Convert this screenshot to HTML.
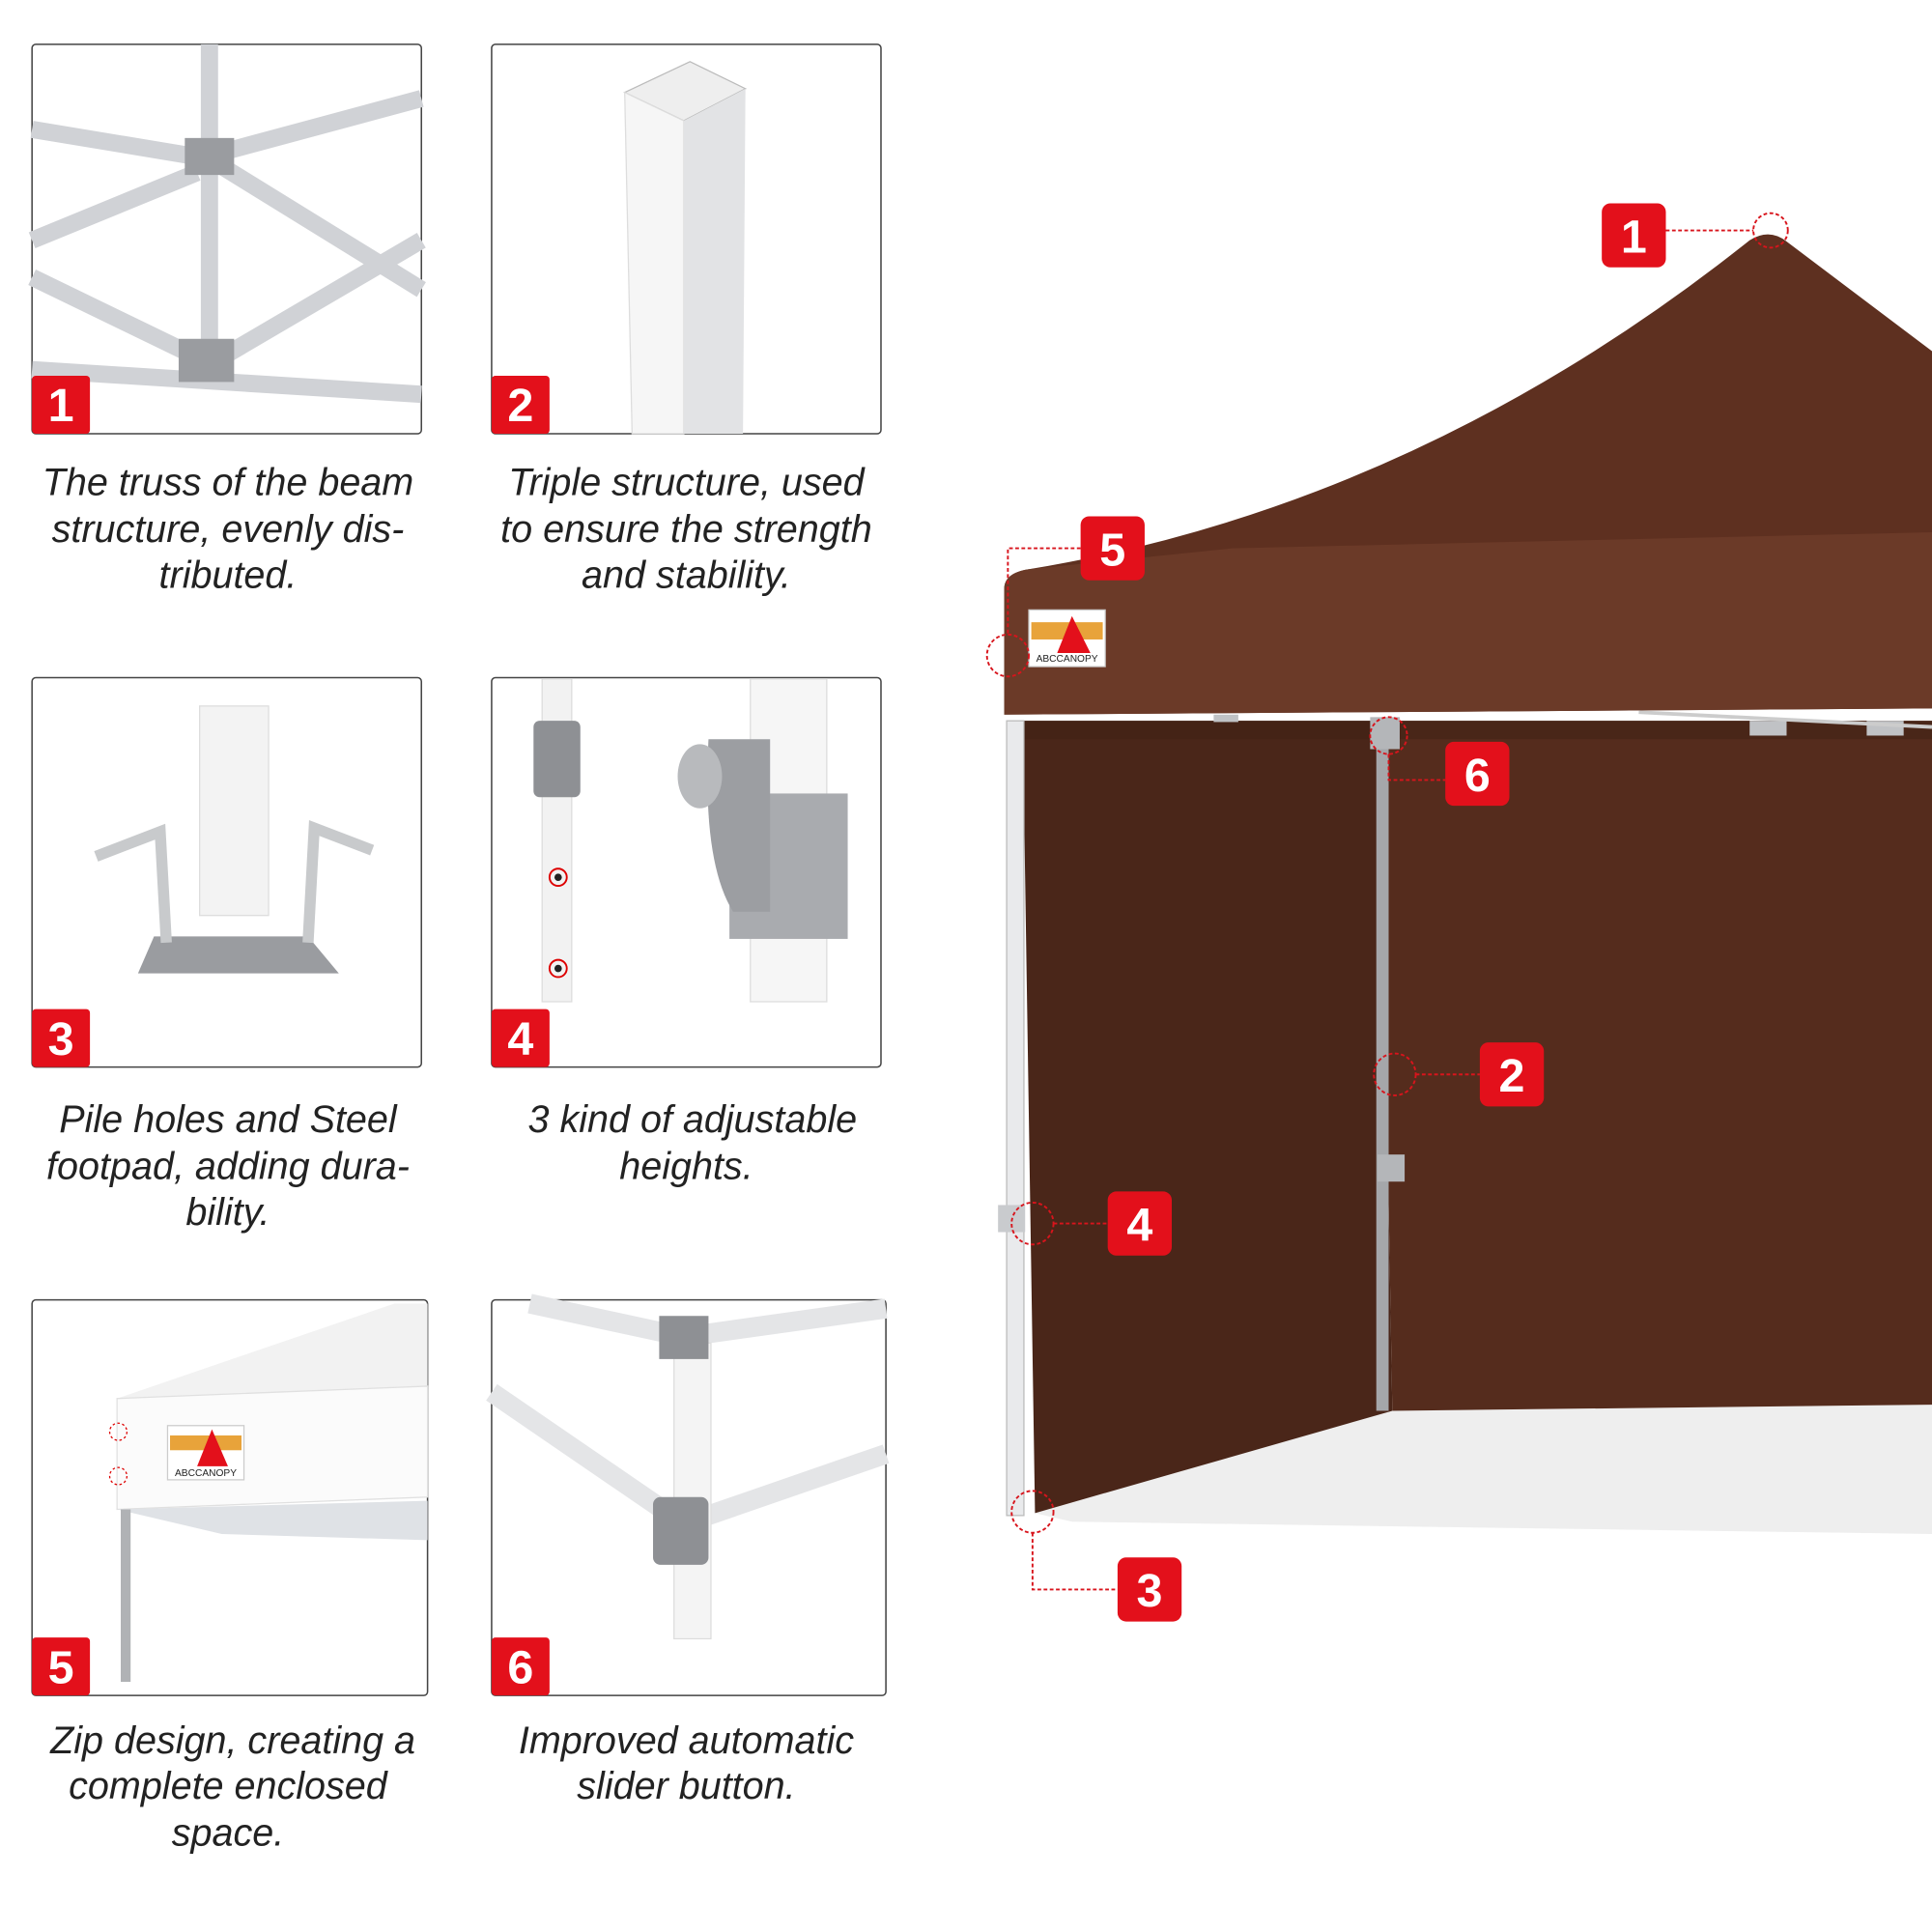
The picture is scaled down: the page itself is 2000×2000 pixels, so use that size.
<!DOCTYPE html>
<html><head><meta charset="utf-8"><style>
html,body{margin:0;padding:0;background:#fff;}
svg{display:block;}
text{font-family:"Liberation Sans",sans-serif;}
.cap{font-size:31px;font-style:italic;fill:#222;text-anchor:middle;}
.b{font-size:38px;font-weight:bold;fill:#fff;text-anchor:middle;}
</style></head><body>
<svg width="2000" height="2000" viewBox="0 0 1568 1568" xmlns="http://www.w3.org/2000/svg">
<rect width="1568" height="1568" fill="#fff"/>
<!-- Panel 1 -->
<g>
<rect x="26" y="36" width="316" height="316" rx="3" fill="#fff" stroke="#444" stroke-width="1.2"/>
<g stroke="#d0d2d6" stroke-width="14" stroke-linecap="butt">
<line x1="170" y1="36" x2="170" y2="300"/>
<line x1="26" y1="105" x2="165" y2="128"/>
<line x1="175" y1="125" x2="342" y2="80"/>
<line x1="26" y1="225" x2="160" y2="290"/>
<line x1="180" y1="135" x2="342" y2="235"/>
<line x1="160" y1="140" x2="26" y2="195"/>
<line x1="180" y1="290" x2="342" y2="195"/>
<line x1="26" y1="300" x2="342" y2="320"/>
</g>
<rect x="150" y="112" width="40" height="30" fill="#9a9ca0"/>
<rect x="145" y="275" width="45" height="35" fill="#9a9ca0"/>
<rect x="26" y="305" width="47" height="47" rx="3" fill="#e3101b"/>
<text x="49.5" y="342" class="b">1</text>
</g>
<!-- Panel 2 -->
<g>
<rect x="399" y="36" width="316" height="316" rx="3" fill="#fff" stroke="#444" stroke-width="1.2"/>
<polygon points="507,75 560,50 605,72 555,98" fill="#eee" stroke="#bbb"/>
<polygon points="507,75 555,98 555,352 513,352" fill="#f6f6f6" stroke="#ddd"/>
<polygon points="555,98 605,72 603,352 555,352" fill="#e2e3e5"/>
<rect x="399" y="305" width="47" height="47" rx="3" fill="#e3101b"/>
<text x="422.5" y="342" class="b">2</text>
</g>
<!-- Panel 3 -->
<g>
<rect x="26" y="550" width="316" height="316" rx="3" fill="#fff" stroke="#444" stroke-width="1.2"/>
<rect x="162" y="573" width="56" height="170" fill="#f3f3f3" stroke="#ddd"/>
<polygon points="112,790 125,760 250,760 275,790" fill="#9a9ca0"/>
<polyline points="78,695 130,675 135,765" fill="none" stroke="#c8cacc" stroke-width="9"/>
<polyline points="302,690 255,672 250,765" fill="none" stroke="#c8cacc" stroke-width="9"/>
<rect x="26" y="819" width="47" height="47" rx="3" fill="#e3101b"/>
<text x="49.5" y="856" class="b">3</text>
</g>
<!-- Panel 4 -->
<g>
<rect x="399" y="550" width="316" height="316" rx="3" fill="#fff" stroke="#444" stroke-width="1.2"/>
<rect x="440" y="551" width="24" height="262" fill="#f2f2f2" stroke="#ddd"/>
<rect x="433" y="585" width="38" height="62" rx="5" fill="#8e9094"/>
<circle cx="453" cy="712" r="7" fill="none" stroke="#d00" stroke-width="1.5"/><circle cx="453" cy="712" r="3" fill="#222"/>
<circle cx="453" cy="786" r="7" fill="none" stroke="#d00" stroke-width="1.5"/><circle cx="453" cy="786" r="3" fill="#222"/>
<rect x="609" y="551" width="62" height="262" fill="#f6f6f6" stroke="#ddd"/>
<rect x="592" y="644" width="96" height="118" fill="#a9abaf"/>
<path d="M575 600 h50 v140 h-30 q-25 -40 -20 -140z" fill="#9c9ea2"/>
<ellipse cx="568" cy="630" rx="18" ry="26" fill="#b8babd"/>
<rect x="399" y="819" width="47" height="47" rx="3" fill="#e3101b"/>
<text x="422.5" y="856" class="b">4</text>
</g>
<!-- Panel 5 -->
<g>
<rect x="26" y="1055" width="321" height="321" rx="3" fill="#fff" stroke="#444" stroke-width="1.2"/>
<polygon points="95,1135 320,1058 347,1058 347,1135" fill="#f2f2f2"/>
<polygon points="95,1135 347,1125 347,1215 95,1225" fill="#fbfbfb" stroke="#e0e0e0"/>
<polygon points="95,1225 347,1218 347,1250 180,1245" fill="#dfe2e6"/>
<rect x="98" y="1225" width="8" height="140" fill="#b0b2b5"/>
<rect x="136" y="1157" width="62" height="44" fill="#fff" stroke="#ccc"/>
<rect x="138" y="1165" width="58" height="12" fill="#e8a33a"/>
<polygon points="160,1190 172,1160 185,1190" fill="#e3101b"/>
<text x="167" y="1198" font-size="8" text-anchor="middle" fill="#222">ABCCANOPY</text>
<circle cx="96" cy="1162" r="7" fill="none" stroke="#d00" stroke-dasharray="2,2"/>
<circle cx="96" cy="1198" r="7" fill="none" stroke="#d00" stroke-dasharray="2,2"/>
<rect x="26" y="1329" width="47" height="47" rx="3" fill="#e3101b"/>
<text x="49.5" y="1366" class="b">5</text>
</g>
<!-- Panel 6 -->
<g>
<rect x="399" y="1055" width="320" height="321" rx="3" fill="#fff" stroke="#444" stroke-width="1.2"/>
<g stroke="#e4e5e7" stroke-width="16">
<line x1="430" y1="1058" x2="555" y2="1085"/>
<line x1="555" y1="1085" x2="719" y2="1062"/>
<line x1="399" y1="1130" x2="545" y2="1230"/>
<line x1="560" y1="1235" x2="719" y2="1180"/>
</g>
<rect x="547" y="1090" width="30" height="240" fill="#f4f4f4" stroke="#ddd"/>
<rect x="535" y="1068" width="40" height="35" fill="#8e9094"/>
<rect x="530" y="1215" width="45" height="55" rx="6" fill="#8e9094"/>
<rect x="399" y="1329" width="47" height="47" rx="3" fill="#e3101b"/>
<text x="422.5" y="1366" class="b">6</text>
</g>
<!-- captions -->
<text class="cap" x="185" y="402">The truss of the beam</text>
<text class="cap" x="185" y="440">structure, evenly dis-</text>
<text class="cap" x="185" y="477">tributed.</text>
<text class="cap" x="557" y="402">Triple structure, used</text>
<text class="cap" x="557" y="440">to ensure the strength</text>
<text class="cap" x="557" y="477">and stability.</text>
<text class="cap" x="185" y="919">Pile holes and Steel</text>
<text class="cap" x="185" y="957">footpad, adding dura-</text>
<text class="cap" x="185" y="994">bility.</text>
<text class="cap" x="562" y="919">3 kind of adjustable</text>
<text class="cap" x="557" y="957">heights.</text>
<text class="cap" x="189" y="1423">Zip design, creating a</text>
<text class="cap" x="185" y="1460">complete enclosed</text>
<text class="cap" x="185" y="1498">space.</text>
<text class="cap" x="557" y="1423">Improved automatic</text>
<text class="cap" x="557" y="1460">slider button.</text>
<!-- Tent -->
<polygon points="840,1228 1130,1145 1568,1140 1568,1245 870,1235" fill="#eeeeee"/>
<path d="M815,478 Q815,465 835,462 Q1150,410 1420,195 Q1436,185 1450,196 L1568,285 L1568,575 L815,580 Z" fill="#5e3020"/>
<path d="M815,478 Q815,465 835,462 L1000,445 L1568,432 L1568,575 L815,580 Z" fill="#6b3a28"/>
<polygon points="830,585 1120,585 1130,1145 840,1228" fill="#4a2619"/>
<polygon points="1120,585 1568,585 1568,1140 1130,1145" fill="#552c1d"/>
<polygon points="830,585 1568,585 1568,600 830,600" fill="#3d1f14" opacity="0.5"/>
<rect x="817" y="585" width="14" height="645" fill="#e9eaec" stroke="#bbb" stroke-width="1"/>
<rect x="1117" y="590" width="10" height="555" fill="#a5a7aa"/>
<rect x="1112" y="582" width="24" height="26" fill="#b4b6b9"/>
<rect x="1118" y="937" width="22" height="22" fill="#b4b6b9"/>
<rect x="810" y="978" width="22" height="22" fill="#c9cbce"/>
<rect x="985" y="580" width="20" height="6" fill="#c0c2c5"/>
<rect x="1420" y="585" width="30" height="12" fill="#c0c2c5"/>
<rect x="1515" y="585" width="30" height="12" fill="#c0c2c5"/>
<line x1="1330" y1="578" x2="1568" y2="590" stroke="#ccc" stroke-width="3"/>
<rect x="835" y="495" width="62" height="46" fill="#fff" stroke="#ccc"/>
<rect x="837" y="505" width="58" height="14" fill="#e8a33a"/>
<polygon points="858,530 870,500 885,530" fill="#e3101b"/>
<text x="866" y="537" font-size="8" text-anchor="middle" fill="#222">ABCCANOPY</text>
<!-- markers -->
<g fill="none" stroke="#d8141c" stroke-width="1.5" stroke-dasharray="3,2">
<circle cx="1437" cy="187" r="14"/>
<line x1="1352" y1="187" x2="1423" y2="187"/>
<circle cx="818" cy="532" r="17"/>
<polyline points="877,445 818,445 818,515"/>
<circle cx="1127" cy="597" r="15"/>
<polyline points="1127,612 1127,633 1173,633"/>
<circle cx="1132" cy="872" r="17"/>
<line x1="1149" y1="872" x2="1201" y2="872"/>
<circle cx="838" cy="993" r="17"/>
<line x1="855" y1="993" x2="899" y2="993"/>
<circle cx="838" cy="1227" r="17"/>
<polyline points="838,1244 838,1290 907,1290"/>
</g>
<g>
<rect x="1300" y="165" width="52" height="52" rx="7" fill="#e3101b"/><text x="1326" y="205" class="b" font-size="42">1</text>
<rect x="877" y="419" width="52" height="52" rx="7" fill="#e3101b"/><text x="903" y="459" class="b" font-size="42">5</text>
<rect x="1173" y="602" width="52" height="52" rx="7" fill="#e3101b"/><text x="1199" y="642" class="b" font-size="42">6</text>
<rect x="1201" y="846" width="52" height="52" rx="7" fill="#e3101b"/><text x="1227" y="886" class="b" font-size="42">2</text>
<rect x="899" y="967" width="52" height="52" rx="7" fill="#e3101b"/><text x="925" y="1007" class="b" font-size="42">4</text>
<rect x="907" y="1264" width="52" height="52" rx="7" fill="#e3101b"/><text x="933" y="1304" class="b" font-size="42">3</text>
</g>
</svg>
</body></html>
